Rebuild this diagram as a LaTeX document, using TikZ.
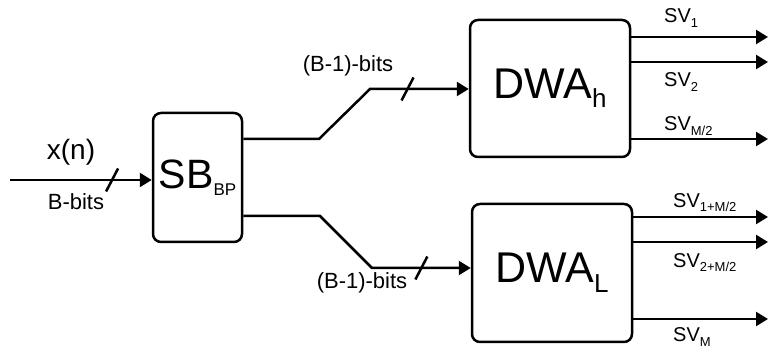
\documentclass[tikz,border=0pt]{standalone}
\usepackage{fontspec}
\setmainfont{Liberation Sans}
\usetikzlibrary{arrows.meta,positioning}

\newcommand{\lowsub}[3]{\raisebox{-#2pt}{\fontsize{#1}{#1}\selectfont #3}}

\begin{document}
\begin{tikzpicture}[x=1pt,y=-1pt,
  blk/.style={draw,line width=2.5pt,rounded corners=8pt,inner sep=0pt},
  sig/.style={line width=2.5pt,-{Triangle[length=12pt,width=14pt]}},
  wire/.style={line width=2.5pt},
  lbl/.style={inner sep=0pt,font=\fontsize{22}{22}\selectfont},
  svl/.style={inner sep=0pt,anchor=base west,font=\fontsize{20}{20}\selectfont}]
\useasboundingbox (0,0) rectangle (769,352);

% Blocks
\node[blk,minimum width=89pt,minimum height=129pt,font=\fontsize{41}{41}\selectfont]
  (sb) at (197.5,177.5) {SB\lowsub{17}{7}{BP}};
\node[blk,minimum width=160pt,minimum height=137pt,font=\fontsize{43}{43}\selectfont]
  (dwah) at (550,88.5) {DWA\lowsub{26}{9}{h}};
\node[blk,minimum width=160pt,minimum height=138pt,font=\fontsize{43}{43}\selectfont]
  (dwal) at (552,273) {DWA\lowsub{26}{10}{L}};

% Input
\coordinate (xin) at (10,180);
\draw[sig] (xin) -- coordinate[pos=0.72] (xbus) (xin -| sb.west);
\draw[wire] (xbus) ++(-6,11.5) -- ++(12,-23);
\node[lbl,font=\fontsize{28}{28}\selectfont] (xn) at (71,152) {x(n)};
\node[lbl] (bbits) at (76,202) {B-bits};

% Upper branch
\coordinate (hb1) at (319,139);
\coordinate (hb2) at (370,89);
\draw[sig] (sb.east |- hb1) -- (hb1) -- (hb2) -- coordinate[pos=0.38] (hbus) (hb2 -| dwah.west);
\draw[wire] (hbus) ++(-6,11.5) -- ++(12,-23);
\node[lbl] (hbits) at (348,66) {(B-1)-bits};

% Lower branch
\coordinate (lb1) at (320,216);
\coordinate (lb2) at (372,268);
\draw[sig] (sb.east |- lb1) -- (lb1) -- (lb2) -- coordinate[pos=0.5] (lbus) (lb2 -| dwal.west);
\draw[wire] (lbus) ++(-6,11.5) -- ++(12,-23);
\node[lbl] (lbits) at (362,283) {(B-1)-bits};

% Outputs
\foreach \y/\n in {37/1,62/2,139/3}{
  \coordinate (ho\n) at (768,\y);
  \draw[sig] (dwah.east |- ho\n) -- (ho\n);
}
\foreach \y/\n in {217/1,242/2,319/3}{
  \coordinate (lo\n) at (768,\y);
  \draw[sig] (dwal.east |- lo\n) -- (lo\n);
}
\node[svl] (sv1) at (664,23) {SV\lowsub{13}{5}{1}};
\node[svl] (sv2) at (664,87) {SV\lowsub{13}{5}{2}};
\node[svl] (svh) at (664,131) {SV\lowsub{13}{5}{M/2}};
\node[svl] (svl1) at (673,208) {SV\lowsub{13}{4}{1+M/2}};
\node[svl] (svl2) at (673,268) {SV\lowsub{13}{4}{2+M/2}};
\node[svl] (svm) at (673,342) {SV\lowsub{13}{5}{M}};
\end{tikzpicture}
\end{document}
